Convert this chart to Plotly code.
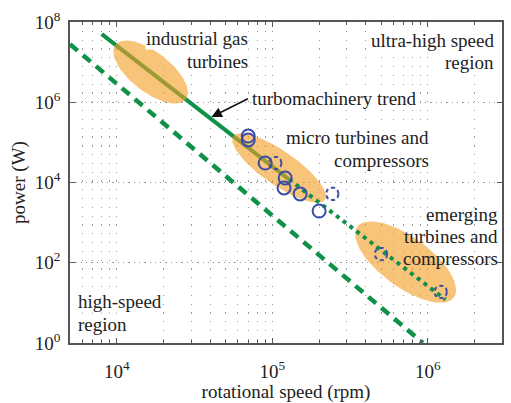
import numpy as np
import plotly.graph_objects as go

# ---------------- data ----------------
x_tick_vals = [1e4, 1e5, 1e6]
x_tick_text = ["10<sup>4</sup>", "10<sup>5</sup>", "10<sup>6</sup>"]
y_tick_vals = [1, 1e2, 1e4, 1e6, 1e8]
y_tick_text = ["10<sup>0</sup>", "10<sup>2</sup>", "10<sup>4</sup>", "10<sup>6</sup>", "10<sup>8</sup>"]
x_minor_vals = [6000, 7000, 8000, 9000,
                2e4, 3e4, 4e4, 5e4, 6e4, 7e4, 8e4, 9e4,
                2e5, 3e5, 4e5, 5e5, 6e5, 7e5, 8e5, 9e5,
                2e6]

# turbomachinery trend (solid part, dotted extrapolation)
trend_rpm = [8000, 1.28e5]
trend_W = [5.0e7, 1.2e4]
extrap_rpm = [1.28e5, 1.3e6]
extrap_W = [1.2e4, 12]
# high-speed boundary (dashed)
bound_rpm = [5000, 9.3e5]
bound_W = [2.8e7, 1.0]

# machines (solid circles) and concepts (dashed circles)
machine_rpm = [7.0e4, 7.0e4, 9.0e4, 1.21e5, 1.19e5, 1.51e5, 2.0e5]
machine_W = [1.44e5, 1.15e5, 3.06e4, 1.29e4, 7.3e3, 5.2e3, 1.95e3]
concept_rpm = [1.045e5, 2.43e5, 5.0e5, 1.21e6]
concept_W = [3.06e4, 5.2e3, 165, 18.7]

# highlighted regions: centre (rpm, W)
region_rpm = [1.65e4, 1.105e5, 7.2e5]
region_W = [5.67e6, 2.3e4, 104]

# ---------------- layout geometry ----------------
W, H = 511, 403
ML, MR, MT, MB = 70, 7, 22, 60
PW, PH = W - ML - MR, H - MT - MB
X_RANGE = [np.log10(5000), np.log10(3e6)]
Y_RANGE = [0, 8]
PXX = PW / (X_RANGE[1] - X_RANGE[0])
PXY = PH / (Y_RANGE[1] - Y_RANGE[0])

# region ellipse sizes in px: (semi-major, semi-minor, tilt deg)
region_shape = [(44.7, 20, 37.5), (56, 17, 34.6), (60, 25, 36)]

GREEN = "#0f9147"
BLUE = "#3a4ea6"
ORANGE = "rgba(243,160,40,0.62)"
FONT = "Liberation Serif"
TXT = "#222222"


def ring(cx, cy, a, b, tilt, n=90):
    t = np.linspace(0, 2 * np.pi, n)
    th = np.radians(tilt)
    dx = a * np.cos(th) * np.cos(t) - b * np.sin(th) * np.sin(t)
    dy = a * np.sin(th) * np.cos(t) + b * np.cos(th) * np.sin(t)
    lx = np.log10(cx) + dx / PXX
    ly = np.log10(cy) - dy / PXY
    return 10 ** lx, 10 ** ly


def paper(x, y):
    return (x - ML) / PW, (H - MB - y) / PH


fig = go.Figure()

# solid trend (below the regions)
fig.add_trace(go.Scatter(x=trend_rpm, y=trend_W, mode="lines",
                         line=dict(color=GREEN, width=4), hoverinfo="skip"))

# regions
for (cx, cy), (a, b, tilt) in zip(zip(region_rpm, region_W), region_shape):
    ex, ey = ring(cx, cy, a, b, tilt)
    fig.add_trace(go.Scatter(x=ex, y=ey, mode="lines", fill="toself",
                             fillcolor=ORANGE, line=dict(width=0),
                             hoverinfo="skip"))

# high-speed boundary
fig.add_trace(go.Scatter(x=bound_rpm, y=bound_W, mode="lines",
                         line=dict(color=GREEN, width=4.5, dash="10px,7px"),
                         hoverinfo="skip"))
# extrapolated trend
fig.add_trace(go.Scatter(x=extrap_rpm, y=extrap_W, mode="lines",
                         line=dict(color=GREEN, width=4, dash="4px,4.5px"),
                         hoverinfo="skip"))

# machines
fig.add_trace(go.Scatter(x=machine_rpm, y=machine_W, mode="markers",
                         marker=dict(symbol="circle-open", size=13,
                                     color=BLUE, line=dict(width=2, color=BLUE)),
                         hoverinfo="skip"))
# concepts: dashed circles
for cx, cy in zip(concept_rpm, concept_W):
    ex, ey = ring(cx, cy, 6.3, 6.3, 0, n=60)
    fig.add_trace(go.Scatter(x=ex, y=ey, mode="lines",
                             line=dict(color=BLUE, width=2, dash="4px,3px"),
                             hoverinfo="skip"))

# ---------------- annotations (one per text line) ----------------
fs = 19
texts = [
    ("industrial gas", 250, 38, "right", True),
    ("turbines", 250, 61, "right", True),
    ("ultra-high speed", 497, 40, "right", True),
    ("region", 497, 62, "right", True),
    ("turbomachinery trend", 252, 98, "left", True),
    ("micro turbines and", 432, 137, "right", True),
    ("compressors", 432, 160, "right", True),
    ("emerging", 501, 214, "right", False),
    ("turbines and", 501, 236, "right", False),
    ("compressors", 501, 258, "right", False),
    ("high-speed", 77, 301, "left", True),
    ("region", 77, 324, "left", True),
]
ann = []
for txt, x, y, al, bg in texts:
    xp, yp = paper(x, y)
    d = dict(text=txt, x=xp, y=yp, xref="paper", yref="paper",
             xanchor=al, yanchor="middle", align=al, showarrow=False,
             font=dict(family=FONT, size=fs, color=TXT), borderpad=0)
    if bg:
        d["bgcolor"] = "white"
    ann.append(d)

# arrow to the trend line
arrow_rpm, arrow_W = 4.06e4, 4.3e5
ann.append(dict(x=np.log10(arrow_rpm), y=np.log10(arrow_W), xref="x", yref="y",
                ax=38, ay=-19, text="", showarrow=True, arrowhead=2,
                arrowsize=1.3, arrowwidth=1.6, arrowcolor="#111111"))

axis_common = dict(showline=True, linecolor="#555555", linewidth=1.5,
                   mirror="ticks", ticks="inside", ticklen=5,
                   tickcolor="#555555", tickwidth=1.2, zeroline=False,
                   tickfont=dict(family=FONT, size=19, color=TXT))

fig.update_layout(
    width=W, height=H,
    margin=dict(l=ML, r=MR, t=MT, b=MB),
    paper_bgcolor="white", plot_bgcolor="white",
    showlegend=False,
    font=dict(family=FONT, color=TXT),
    annotations=ann,
    xaxis=dict(type="log", range=X_RANGE, tickvals=x_tick_vals, ticktext=x_tick_text,
               showgrid=True, gridcolor="#9a9a9a", gridwidth=1, griddash="1.3px,7.5px",
               minor=dict(tickvals=x_minor_vals, ticks="inside", ticklen=3,
                          tickcolor="#555555", showgrid=True, gridcolor="#9a9a9a",
                          gridwidth=1, griddash="1.3px,7.5px"),
               ticklabelstandoff=10,
               title=dict(text="rotational speed (rpm)", standoff=1,
                          font=dict(family=FONT, size=19, color=TXT)),
               **axis_common),
    yaxis=dict(type="log", range=Y_RANGE, tickvals=y_tick_vals, ticktext=y_tick_text,
               showgrid=True, gridcolor="#9a9a9a", gridwidth=1, griddash="1.3px,4px",
               ticklabelstandoff=4,
               title=dict(text="power (W)", standoff=4,
                          font=dict(family=FONT, size=19, color=TXT)),
               **axis_common),
)

fig.write_html("out.html",
               config={"displayModeBar": False},
               post_script="document.body.style.margin='0px';"
                           "document.body.style.overflow='hidden';")
